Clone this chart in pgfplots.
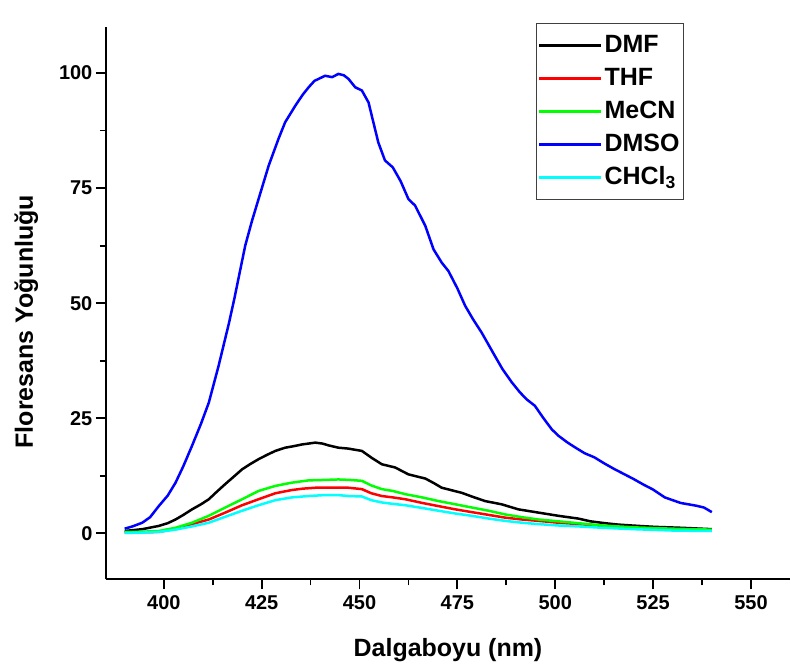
\documentclass[border=0pt]{standalone}
\usepackage{fontspec}
\setmainfont{Liberation Sans}
\usepackage{pgfplots}
\pgfplotsset{compat=1.18}
\definecolor{cgreen}{RGB}{0,255,0}
\definecolor{ccyan}{RGB}{0,255,255}
\begin{document}
\begin{tikzpicture}
\begin{axis}[
  scale only axis,
  width=685pt, height=553pt,
  xmin=385.2, xmax=560,
  ymin=-10, ymax=110,
  axis lines=left,
  axis line style={-, line width=1.8pt},
  xtick={400,425,...,550},
  ytick={0,25,50,75,100},
  minor x tick num=1,
  minor y tick num=1,
  tick align=outside,
  major tick length=10pt,
  minor tick length=6pt,
  every tick/.style={black, line width=1.8pt},
  /pgf/number format/assume math mode=true,
  tick label style={font=\fontsize{20}{24}\selectfont\bfseries},
  xticklabel style={yshift=-3pt},
  xlabel={Dalgaboyu (nm)},
  ylabel={Floresans Yoğunluğu},
  every axis x label/.style={at={(rel axis cs:0.5,-0.1392)}, anchor=base, font=\fontsize{25}{30}\selectfont\bfseries},
  every axis y label/.style={at={(rel axis cs:-0.1066,0.4665)}, anchor=base, rotate=90, font=\fontsize{25}{30}\selectfont\bfseries},
  legend style={at={(0.628,1.007)}, anchor=north west, draw=black!75, line width=1.2pt,
    font=\fontsize{25}{30}\selectfont\bfseries, inner xsep=2pt, inner ysep=9pt,
    row sep=7pt,
    nodes={inner ysep=2pt, text height=18pt, text depth=4pt}},
  legend cell align=left,
  legend image code/.code={\draw[#1, line width=2.5pt] (0pt,0pt) -- (62pt,0pt);},
  every axis plot/.append style={line width=2.5pt},
]
\addplot[black] coordinates {
(390,0.5) (394.5,0.9) (398.7,1.6) (401,2.2) (403,3.0) (405,4.0) (407.2,5.2) (409.5,6.3)
(411.5,7.4) (413.5,9.0) (415.7,10.7) (418,12.4) (420,13.9) (422,15.0) (424.2,16.1)
(426.5,17.1) (428.5,17.9) (431,18.6) (433,18.9) (435.3,19.3) (437,19.5) (438.7,19.7)
(440.5,19.5) (442.1,19.1) (444.6,18.6) (447.2,18.4) (448.5,18.2) (450.6,17.9) (453.1,16.4)
(455.7,15.0) (459.1,14.3) (462.5,12.8) (466.8,11.9) (469,10.9) (471,9.9) (476.1,8.8)
(479,7.9) (482.1,7.0) (486.3,6.3) (490.6,5.2) (495.7,4.5) (500.8,3.8) (505.9,3.2)
(509,2.6) (512.7,2.2) (516,1.9) (519.5,1.7) (525.4,1.4) (532.2,1.2) (540,0.9)
};
\addlegendentry{DMF}
\addplot[red] coordinates {
(390,0.2) (394.5,0.25) (398.7,0.3) (403,1.0) (407.2,2.0) (411.5,3.0) (415.7,4.5)
(420,6.1) (424.2,7.4) (428.5,8.7) (432.7,9.4) (435.5,9.7) (438.7,9.9) (442,9.95)
(444.6,9.9) (447.2,9.9) (450.6,9.6) (453,8.7) (455.7,8.1) (458.5,7.8) (461.7,7.4)
(466,6.6) (470.2,5.9) (474.5,5.2) (478.7,4.6) (483,4.0) (487.2,3.4) (491.5,3.0)
(495.7,2.7) (500.8,2.3) (505.9,2.0) (512,1.6) (520,1.2) (530,0.9) (540,0.7)
};
\addlegendentry{THF}
\addplot[cgreen] coordinates {
(390,0.3) (394.5,0.35) (398.7,0.5) (403,1.2) (407.2,2.3) (411.5,3.8) (415.7,5.6)
(420,7.4) (424.2,9.2) (428.5,10.3) (432.7,11.0) (437,11.5) (441.2,11.6) (444.6,11.7)
(447.5,11.6) (450.6,11.4) (453,10.4) (455.7,9.6) (458.5,9.2) (461.7,8.5) (466,7.8)
(470.2,7.0) (474.5,6.3) (478.7,5.6) (483,4.9) (487.2,4.1) (491.5,3.5) (495.7,3.0)
(500.8,2.6) (505.9,2.2) (512,1.7) (520,1.3) (530,1.0) (540,0.8)
};
\addlegendentry{MeCN}
\addplot[blue] coordinates {
(390,1.0) (392,1.5) (394.5,2.3) (396.5,3.5) (398.7,5.9) (401,8.2) (403,11.0) (405,14.6)
(407.2,19.0) (409.5,23.8) (411.5,28.4) (414,36.4) (416.6,45.5) (418,50.9) (420.8,62.5)
(422.5,67.8) (424.2,72.6) (426.8,79.9) (429.3,85.7) (431,89.3) (433.6,92.9) (435.5,95.3)
(437,96.9) (438.5,98.3) (439.5,98.7) (441.2,99.4) (443,99.1) (444.6,99.8) (446,99.5)
(447.2,98.7) (448.9,96.9) (450.6,96.2) (452.3,93.6) (454.8,84.9) (456.5,81.0) (458.5,79.5)
(460.5,76.5) (462.5,72.6) (464.2,71.2) (466.8,66.8) (468.9,61.7) (471,58.8) (472.7,57.0)
(475,53.2) (477,49.4) (479,46.5) (481.2,43.6) (484.6,38.5) (486.5,35.7) (488.9,32.8)
(491,30.6) (492.7,29.1) (494.8,27.7) (497,25.0) (499.1,22.6) (500.8,21.2) (503,19.8)
(505,18.7) (507.5,17.4) (510,16.5) (512.5,15.2) (515,14.0) (517.5,12.9) (520,11.8)
(522.5,10.6) (525,9.5) (528,7.8) (532,6.6) (536,6.0) (538,5.6) (540,4.6)
};
\addlegendentry{DMSO}
\addplot[ccyan] coordinates {
(390,0.1) (394.5,0.15) (398.7,0.3) (403,0.8) (407.2,1.5) (411.5,2.3) (415.7,3.6)
(420,4.9) (424.2,6.1) (428.5,7.2) (432.7,7.8) (437,8.1) (441,8.3) (444.6,8.3)
(447.2,8.1) (450.6,8.0) (453,7.2) (455.7,6.7) (458.5,6.4) (461.7,6.1) (466,5.5)
(470.2,4.9) (474.5,4.3) (478.7,3.8) (483,3.2) (487.2,2.7) (491.5,2.3) (495.7,2.0)
(500.8,1.7) (505.9,1.5) (512,1.2) (520,0.9) (530,0.6) (540,0.5)
};
\addlegendentry{CHCl\textsubscript{3}}
\end{axis}
\path (-106pt,-86pt) rectangle (685pt,580pt);
\end{tikzpicture}
\end{document}
